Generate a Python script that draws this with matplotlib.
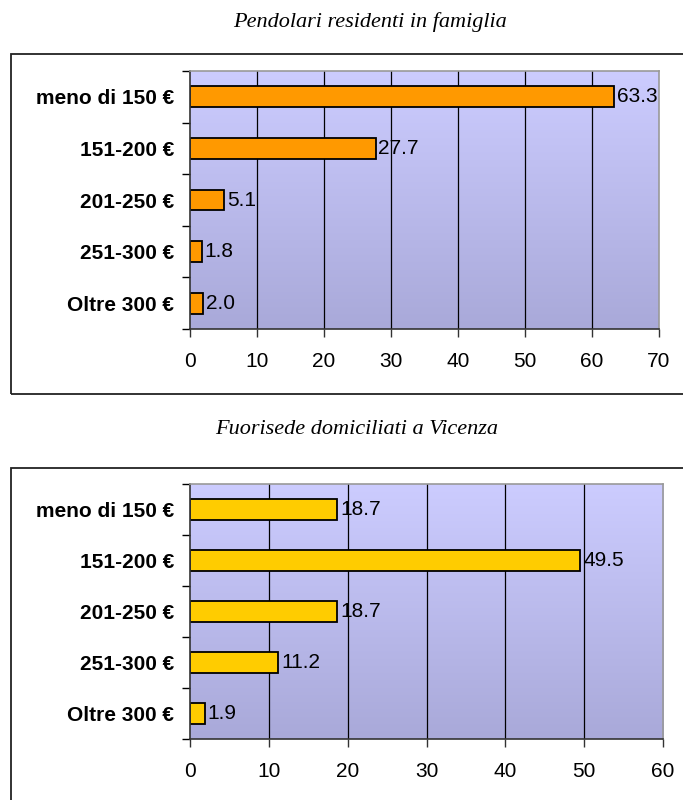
import numpy as np
import matplotlib.pyplot as plt
from matplotlib.patches import Rectangle
from matplotlib.colors import LinearSegmentedColormap

categories = ['meno di 150 €', '151-200 €', '201-250 €', '251-300 €', 'Oltre 300 €']
pendolari = [63.3, 27.7, 5.1, 1.8, 2.0]
fuorisede = [18.7, 49.5, 18.7, 11.2, 1.9]
xticks_top = [0, 10, 20, 30, 40, 50, 60, 70]
xticks_bottom = [0, 10, 20, 30, 40, 50, 60]

W, H = 683, 800
fig = plt.figure(figsize=(W / 100, H / 100), dpi=100)

bg = LinearSegmentedColormap.from_list('bg', ['#CCCCFF', '#A9A9D9'])

def px_axes(x0, y0, x1, y1):
    return fig.add_axes([x0 / W, 1 - y1 / H, (x1 - x0) / W, (y1 - y0) / H])

def frame(x0, y0, x1, y1):
    fig.patches.append(Rectangle((x0 / W, 1 - y1 / H), (x1 - x0) / W, (y1 - y0) / H,
                                 transform=fig.transFigure, fill=False,
                                 edgecolor='#222222', linewidth=1.3, zorder=0))

def draw(ax, values, color, xmax, ticks):
    n = len(values)
    ax.set_xlim(0, xmax)
    ax.set_ylim(n, 0)
    grad = np.linspace(0, 1, 256).reshape(-1, 1)
    ax.imshow(grad, cmap=bg, aspect='auto', extent=[0, xmax, n, 0], zorder=0)
    for t in ticks[1:-1]:
        ax.axvline(t, color='black', linewidth=0.9, zorder=1)
    y = np.arange(n) + 0.5
    ax.barh(y, values, height=0.4, color=color, edgecolor='black', linewidth=1.3, zorder=2)
    for yi, v in zip(y, values):
        ax.text(v + xmax * 0.006, yi, f'{v:.1f}', va='center', ha='left',
                fontsize=15, family='Liberation Sans', zorder=3)
    ax.set_xticks(ticks)
    ax.set_xticklabels([str(t) for t in ticks], fontsize=15, family='Liberation Sans')
    ax.set_yticks(np.arange(n + 1))
    ax.set_yticklabels([])
    ax.set_yticks(y, minor=True)
    ax.set_yticklabels(categories, minor=True, fontsize=15, fontweight='bold',
                       family='Liberation Sans')
    ax.tick_params(axis='y', which='minor', length=0, pad=11.5)
    ax.tick_params(axis='y', which='major', length=6, width=1, color='black')
    ax.tick_params(axis='x', length=6, width=1, pad=10.5, color='#333333')
    ax.spines['left'].set_color('#333333')
    ax.spines['left'].set_linewidth(1.2)
    ax.spines['bottom'].set_color('#333333')
    ax.spines['bottom'].set_linewidth(1.2)
    ax.spines['top'].set_color('#999999')
    ax.spines['right'].set_color('#999999')
    ax.spines['top'].set_linewidth(1.2)
    ax.spines['right'].set_linewidth(1.2)

# top chart
frame(11, 54, 700, 394)
ax1 = px_axes(190, 71, 659, 329)
draw(ax1, pendolari, '#FF9900', 70, xticks_top)
fig.text(370 / W, 1 - 22 / H, 'Pendolari residenti in famiglia', ha='center', va='center',
         fontsize=16, style='italic', family='Liberation Serif')

# bottom chart
frame(11, 468, 700, 820)
ax2 = px_axes(190, 484, 663, 739)
draw(ax2, fuorisede, '#FFCC00', 60, xticks_bottom)
fig.text(357 / W, 1 - 430 / H, 'Fuorisede domiciliati a Vicenza', ha='center', va='center',
         fontsize=16, style='italic', family='Liberation Serif')

fig.savefig('out.png', dpi=100)
